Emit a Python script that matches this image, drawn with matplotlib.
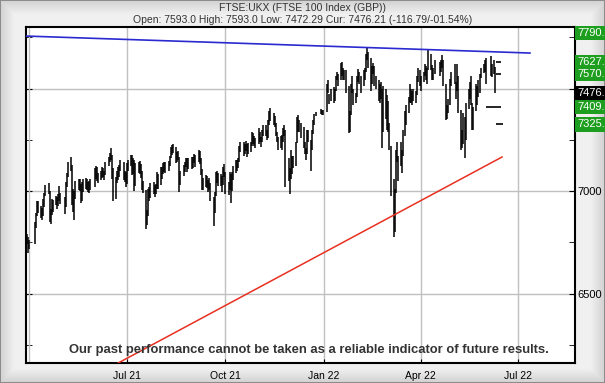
import numpy as np
import pandas as pd
import matplotlib
matplotlib.use('Agg')
import matplotlib.pyplot as plt

# ================================================================
# FTSE 100 - barras diarias (máximo / mínimo)
# ================================================================

# Máximos diarios, una fila por semana (30 mar 2021 -> 9 jun 2022)
highs = [
    6790, 6775, 6760,
    6850, 6895, 6950, 6950,
    6925, 6915, 6960, 6990, 7030,
    7040, 7000, 6910, 6960, 6955,
    6975, 6970, 6985, 7025, 6990,
    6970, 7045, 7090, 7140,
    7165, 7125, 7010, 7000, 7050,
    7060, 7060, 7035, 7045, 7060,
    7065, 7060, 7045, 7050, 7060,
    7110, 7120, 7115, 7090,
    7100, 7115, 7110, 7100, 7140,
    7165, 7185, 7210, 7175, 7110,
    7070, 7100, 7115, 7125, 7150,
    7140, 7100, 7095, 7135, 7150,
    7175, 7175, 7160, 7150, 7135,
    7140, 7145, 7130, 7100, 7050,
    7005, 6905, 7010, 7020, 7040,
    7045, 7030, 7035, 7095, 7085,
    7115, 7115, 7135, 7140, 7140,
    7145, 7170, 7215, 7225, 7230,
    7215, 7190, 7195, 7165, 7100,
    7125, 7140, 7160, 7160, 7160,
    7165, 7165, 7180, 7175,
    7200, 7195, 7160, 7105, 7065,
    7080, 7075, 7055, 7065, 7040,
    6970, 6995, 7095, 7100, 7090,
    7085, 7075, 7115, 7130, 7095,
    7045, 7095, 7085, 7095, 7120,
    7150, 7150, 7160, 7220, 7240,
    7240, 7230, 7245, 7230, 7235,
    7240, 7290, 7285, 7270, 7260,
    7305, 7290, 7265, 7300, 7320,
    7320, 7300, 7345, 7390, 7405,
    7380, 7365, 7330, 7290, 7265,
    7270, 7275, 7305, 7320, 7300,
    7160, 7110, 7200, 7170, 7170,
    7240, 7360, 7370, 7345, 7330,
    7310, 7240, 7210, 7300, 7300,
    7250, 7300, 7345, 7375, 7385,
    7400, 7395, 7395,
    7520, 7540, 7475, 7500,
    7505, 7500, 7560, 7580, 7570,
    7625, 7630, 7600, 7590, 7590,
    7510, 7390, 7520, 7560, 7500,
    7480, 7560, 7595, 7580, 7560,
    7590, 7600, 7670, 7700, 7680,
    7650, 7610, 7625, 7610, 7560,
    7540, 7520, 7530, 7500, 7510,
    7500, 7470, 7440, 7330, 7220,
    7060, 7010, 7200, 7240, 7170,
    7240, 7200, 7300, 7390, 7420,
    7460, 7520, 7500, 7490, 7500,
    7490, 7560, 7600, 7590, 7560,
    7580, 7620, 7610, 7600, 7690,
    7670, 7615, 7600, 7640,
    7630, 7640, 7665, 7640,
    7520, 7420, 7450, 7545, 7580,
    7620, 7530, 7620, 7560,
    7395, 7300, 7380, 7360, 7430,
    7500, 7530, 7560, 7430, 7410,
    7520, 7510, 7540, 7570, 7600,
    7620, 7640, 7650,
    7660, 7620, 7640, 7605,
]

# Mínimos diarios, mismas filas
lows = [
    6740, 6700, 6715,
    6740, 6820, 6880, 6895,
    6870, 6860, 6880, 6920, 6975,
    6985, 6850, 6840, 6885, 6900,
    6930, 6910, 6925, 6950, 6935,
    6890, 6920, 7020, 7070,
    7100, 6930, 6900, 6860, 6960,
    7005, 7000, 6940, 6950, 6995,
    7010, 7005, 6995, 6990, 7005,
    7020, 7060, 7050, 7040,
    7055, 7065, 7070, 7055, 7080,
    7120, 7140, 7150, 7060, 6950,
    6960, 7040, 7055, 7070, 7100,
    7055, 7045, 7020, 7035, 7100,
    7120, 7080, 7085, 7000, 7025,
    7090, 7085, 7065, 7005, 6990,
    6815, 6835, 6880, 6950, 6965,
    6985, 6970, 6985, 7010, 7010,
    7030, 7060, 7085, 7095, 7090,
    7100, 7120, 7160, 7175, 7185,
    7135, 7140, 7150, 6995, 7030,
    7075, 7095, 7115, 7095, 7105,
    7105, 7110, 7135, 7115,
    7140, 7130, 7080, 7005, 7005,
    7020, 7015, 6995, 7005, 6950,
    6830, 6895, 6975, 7040, 7025,
    7025, 6995, 7030, 7070, 6985,
    6980, 7005, 6940, 7000, 7055,
    7090, 7100, 7110, 7140, 7190,
    7170, 7180, 7195, 7165, 7180,
    7190, 7220, 7230, 7220, 7210,
    7230, 7240, 7215, 7240, 7270,
    7270, 7250, 7260, 7320, 7340,
    7320, 7310, 7270, 7240, 7200,
    7210, 7200, 7240, 7270, 7020,
    7050, 6985, 7060, 7085, 7110,
    7120, 7235, 7290, 7290, 7260,
    7210, 7180, 7150, 7180, 7240,
    7100, 7200, 7280, 7320, 7365,
    7375, 7370, 7370,
    7385, 7480, 7425, 7440,
    7430, 7440, 7490, 7540, 7510,
    7540, 7560, 7540, 7540, 7480,
    7285, 7290, 7370, 7480, 7420,
    7430, 7460, 7530, 7520, 7480,
    7510, 7540, 7580, 7640, 7600,
    7490, 7520, 7570, 7510, 7500,
    7440, 7430, 7450, 7210, 7290,
    7350, 7300, 7290, 7200, 6975,
    6775, 6800, 6990, 7140, 7050,
    7120, 7090, 7170, 7270, 7320,
    7380, 7430, 7430, 7420, 7440,
    7430, 7470, 7530, 7510, 7490,
    7530, 7560, 7540, 7520, 7590,
    7590, 7540, 7540, 7570,
    7560, 7580, 7600, 7510,
    7345, 7350, 7380, 7420, 7510,
    7520, 7450, 7490, 7380,
    7200, 7210, 7230, 7160, 7250,
    7400, 7450, 7420, 7300, 7300,
    7390, 7420, 7460, 7480, 7550,
    7575, 7580, 7520,
    7560, 7555, 7570, 7480,
]

# Festivos de la bolsa de Londres dentro del periodo
holidays = ['2021-04-02', '2021-04-05', '2021-05-03', '2021-05-31',
            '2021-08-30', '2021-12-27', '2021-12-28', '2022-01-03',
            '2022-04-15', '2022-04-18', '2022-05-02', '2022-06-02',
            '2022-06-03']

dates = pd.bdate_range('2021-03-30', '2022-06-09')
dates = dates[~dates.isin(pd.to_datetime(holidays))]
n = min(len(dates), len(highs), len(lows))
dates = dates[:n]

# Líneas de tendencia (dos puntos cada una)
blue_dates = ['2021-03-28', '2022-07-12']
blue_vals = [7756, 7673]
red_dates = ['2021-06-23', '2022-06-16']
red_vals = [6161, 7166]

# Niveles objetivo (guiones a la derecha del último precio)
target_vals = [7627, 7570, 7409, 7325]
target_start = ['2022-06-10', '2022-06-10', '2022-06-01', '2022-06-10']
target_end = ['2022-06-15', '2022-06-15', '2022-06-15', '2022-06-17']

# Etiquetas del eje derecho
level_vals = [7790, 7627, 7570, 7476, 7409, 7325]
level_text = ['7790.', '7627.', '7570.', '7476.', '7409.', '7325.']
level_col = ['#1e9e1e', '#1e9e1e', '#1e9e1e', 'black', '#1e9e1e', '#1e9e1e']

tick_dates = ['2021-07-01', '2021-10-01', '2022-01-01', '2022-04-01', '2022-07-01']
tick_labels = ['Jul 21', 'Oct 21', 'Jan 22', 'Apr 22', 'Jul 22']

plt.rcParams['font.family'] = ['Liberation Sans', 'DejaVu Sans']

fig = plt.figure(figsize=(6.05, 3.83), dpi=100)

# Fondo gris con borde biselado
bg = fig.add_axes([0, 0, 1, 1], zorder=-10)
h, w = 383, 605
yy, xx = np.mgrid[0:h, 0:w]
d = np.minimum.reduce([xx, w - 1 - xx, yy, h - 1 - yy])
shade = 0.82 + 0.12 * np.clip(d / 14.0, 0, 1)
shade[d == 0] = 0.55
bg.imshow(shade, cmap='gray', vmin=0, vmax=1, aspect='auto', extent=[0, 1, 0, 1])
bg.axis('off')

ax = fig.add_axes([26 / 605, 20 / 383, 549 / 605, 336 / 383])
ax.set_facecolor('white')

ax.vlines(dates, lows[:n], highs[:n], color='black', lw=1.1, zorder=3)

ax.plot(pd.to_datetime(blue_dates), blue_vals, color='#2a2ad0', lw=1.2, zorder=4)
ax.plot(pd.to_datetime(red_dates), red_vals, color='#e83020', lw=1.1, zorder=4)

for v, a, b in zip(target_vals, target_start, target_end):
    ax.hlines(v, pd.Timestamp(a), pd.Timestamp(b), color='black', lw=1.2, zorder=4)

ymin, ymax = 6161, 7800
ax.set_xlim(pd.Timestamp('2021-03-29'), pd.Timestamp('2022-08-23'))
ax.set_ylim(ymin, ymax)

ax.set_xticks(pd.to_datetime(tick_dates))
ax.set_xticklabels(tick_labels)
ax.axvline(pd.Timestamp('2021-04-01'), color='#c0c0c0', lw=1, zorder=1)

ax.yaxis.tick_right()
ax.set_yticks([6500, 7000, 7500])
ax.set_yticklabels(['6500', '7000', ''])
ax.set_yticks(np.arange(6250, 7800, 250), minor=True)
ax.tick_params(axis='y', which='both', direction='in', left=True, right=True,
               labelleft=False, labelright=True, labelsize=8, pad=2, length=4)
ax.tick_params(axis='x', direction='in', length=3, labelsize=7.5, pad=6)
ax.grid(True, which='major', color='#c0c0c0', lw=1, zorder=1)
ax.set_axisbelow(True)
for s in ax.spines.values():
    s.set_linewidth(1.5)
    s.set_color('black')

# la caja de arriba se mantiene dentro del área del gráfico
for v, t, c in zip(level_vals, level_text, level_col):
    ypos = min(v, ymax - 30)
    ax.text(1.004, ypos, t, transform=ax.get_yaxis_transform(), fontsize=8,
            color='white', va='center', ha='left', clip_on=False, zorder=10,
            bbox=dict(boxstyle='square,pad=0.2', fc=c, ec='none'))

fig.text(0.5, 1 - 8 / 383, 'FTSE:UKX (FTSE 100 Index (GBP))', ha='center',
         va='center', fontsize=7.5, color='#333333')
fig.text(0.5, 1 - 20 / 383,
         'Open: 7593.0 High: 7593.0 Low: 7472.29 Cur: 7476.21 (-116.79/-01.54%)',
         ha='center', va='center', fontsize=7.5, color='#333333')

fig.text(309 / 605, 1 - 350 / 383,
         'Our past performance cannot be taken as a reliable indicator of future results.',
         ha='center', va='center', fontsize=9.4, fontweight='bold', color='#333333')

fig.savefig('out.png', dpi=100)
